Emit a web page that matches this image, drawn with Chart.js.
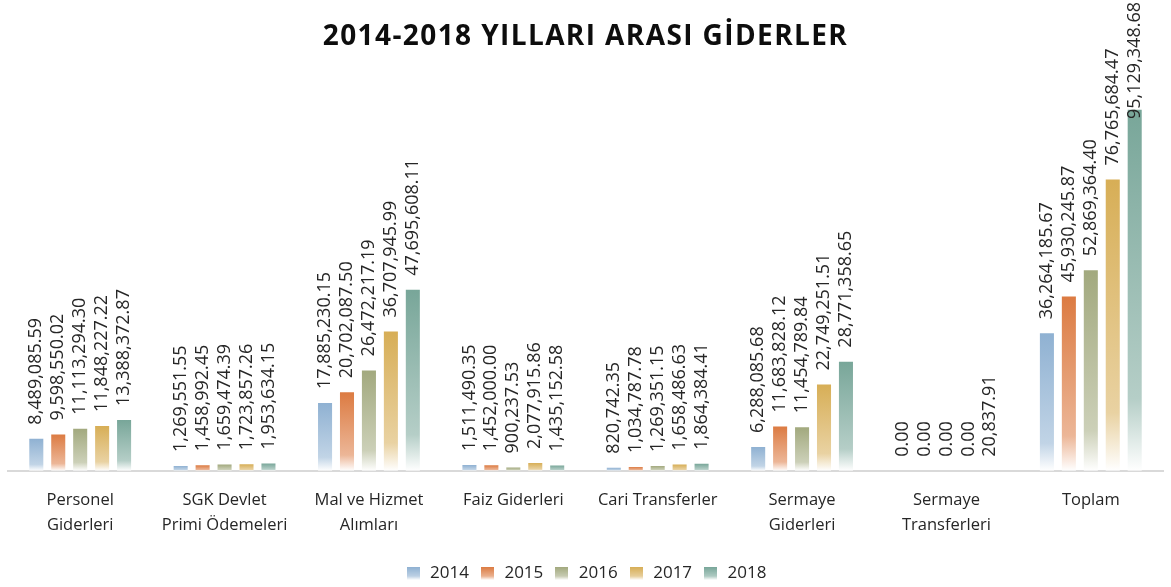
<!DOCTYPE html>
<html>
<head>
<meta charset="utf-8">
<script src="https://cdn.jsdelivr.net/npm/chart.js"></script>
<style>
  html, body { margin: 0; padding: 0; background: #fff; }
  #wrap { width: 1171px; height: 587px; }
</style>
</head>
<body>
<div id="wrap"><canvas id="chart"></canvas></div>
<script>
// Data
const categories = [
  ["Personel", "Giderleri"],
  ["SGK Devlet", "Primi Ödemeleri"],
  ["Mal ve Hizmet", "Alımları"],
  "Faiz Giderleri",
  "Cari Transferler",
  ["Sermaye", "Giderleri"],
  ["Sermaye", "Transferleri"],
  "Toplam"
];
const years = ["2014", "2015", "2016", "2017", "2018"];
const values2014 = [8489085.59, 1269551.55, 17885230.15, 1511490.35, 820742.35, 6288085.68, 0, 36264185.67];
const values2015 = [9598550.02, 1458992.45, 20702087.50, 1452000.00, 1034787.78, 11683828.12, 0, 45930245.87];
const values2016 = [11113294.30, 1659474.39, 26472217.19, 900237.53, 1269351.15, 11454789.84, 0, 52869364.40];
const values2017 = [11848227.22, 1723857.26, 36707945.99, 2077915.86, 1658486.63, 22749251.51, 0, 76765684.47];
const values2018 = [13388372.87, 1953634.15, 47695608.11, 1435152.58, 1864384.41, 28771358.65, 20837.91, 95129348.68];
const seriesValues = [values2014, values2015, values2016, values2017, values2018];
const colors = ["#8FB1D2", "#DC7B42", "#A2A97E", "#D7AE56", "#78A699"];
const titleText = "2014-2018 YILLARI ARASI GİDERLER";

function mix(hex, t) {
  // blend hex colour toward white by t
  const n = parseInt(hex.slice(1), 16);
  const r = (n >> 16) & 255, g = (n >> 8) & 255, b = n & 255;
  const f = c => Math.round(c + (255 - c) * t);
  return `rgb(${f(r)},${f(g)},${f(b)})`;
}

function barGradient(ctx, color) {
  const chart = ctx.chart;
  if (!chart.chartArea || ctx.type !== 'data') return color;
  const y = chart.scales.y;
  const top = y.getPixelForValue(ctx.raw);
  const base = y.getPixelForValue(0);
  if (base - top < 1) return color;
  const g = chart.ctx.createLinearGradient(0, top, 0, base);
  g.addColorStop(0, color);
  g.addColorStop(0.8, mix(color, 0.45));
  g.addColorStop(1, "#ffffff");
  return g;
}

function legendBox(color) {
  const c = document.createElement("canvas");
  c.width = 13; c.height = 13;
  const x = c.getContext("2d");
  const g = x.createLinearGradient(0, 0, 0, 13);
  g.addColorStop(0, color);
  g.addColorStop(0.7, mix(color, 0.4));
  g.addColorStop(1, "#ffffff");
  x.fillStyle = g;
  x.fillRect(0, 0, 13, 13);
  return c;
}

const fmt = v => v.toLocaleString("en-US", { minimumFractionDigits: 2, maximumFractionDigits: 2 });

// Title and rotated value labels
const valueLabels = {
  id: "valueLabels",
  afterDatasetsDraw(chart) {
    const ctx = chart.ctx;
    ctx.save();
    ctx.font = "bold 28px 'Open Sans'";
    ctx.fillStyle = "#0d0d0d";
    ctx.textAlign = "center";
    ctx.textBaseline = "middle";
    ctx.letterSpacing = "1.4px";
    ctx.fillText(titleText, chart.width / 2, 37);
    ctx.restore();

    ctx.save();
    ctx.font = "18px 'Open Sans'";
    ctx.fillStyle = "#262626";
    ctx.textBaseline = "middle";
    ctx.textAlign = "left";
    chart.data.datasets.forEach((ds, i) => {
      chart.getDatasetMeta(i).data.forEach((bar, j) => {
        const text = fmt(ds.data[j]);
        const w = ctx.measureText(text).width;
        let y0 = bar.y - 14;
        if (y0 - w < 2) y0 = w + 2;
        ctx.save();
        ctx.translate(bar.x, y0);
        ctx.rotate(-Math.PI / 2);
        ctx.fillText(text, 0, 0);
        ctx.restore();
      });
    });
    ctx.restore();
  }
};

new Chart(document.getElementById("chart"), {
  type: "bar",
  data: {
    labels: categories,
    datasets: years.map((yr, i) => ({
      label: yr,
      data: seriesValues[i],
      backgroundColor: ctx => barGradient(ctx, colors[i]),
      borderWidth: 0,
      pointStyle: legendBox(colors[i]),
      barPercentage: 0.64,
      categoryPercentage: 0.76
    }))
  },
  options: {
    responsive: true,
    maintainAspectRatio: false,
    animation: false,
    layout: { padding: { left: 8, right: 8, top: 80, bottom: -5 } },
    plugins: {
      title: { display: false },
      legend: {
        position: "bottom",
        labels: {
          usePointStyle: true,
          color: "#262626",
          font: { family: "'Open Sans'", size: 17 },
          padding: 10
        }
      },
      tooltip: { enabled: false }
    },
    scales: {
      x: {
        grid: { display: false, drawTicks: false },
        border: { color: "#d9d9d9", width: 2 },
        ticks: {
          color: "#262626",
          font: { family: "'Open Sans'", size: 16.5, lineHeight: 1.52 },
          padding: 17,
          maxRotation: 0,
          autoSkip: false
        }
      },
      y: {
        display: false,
        min: 0,
        max: 103000000
      }
    }
  },
  plugins: [valueLabels]
});
</script>
</body>
</html>
